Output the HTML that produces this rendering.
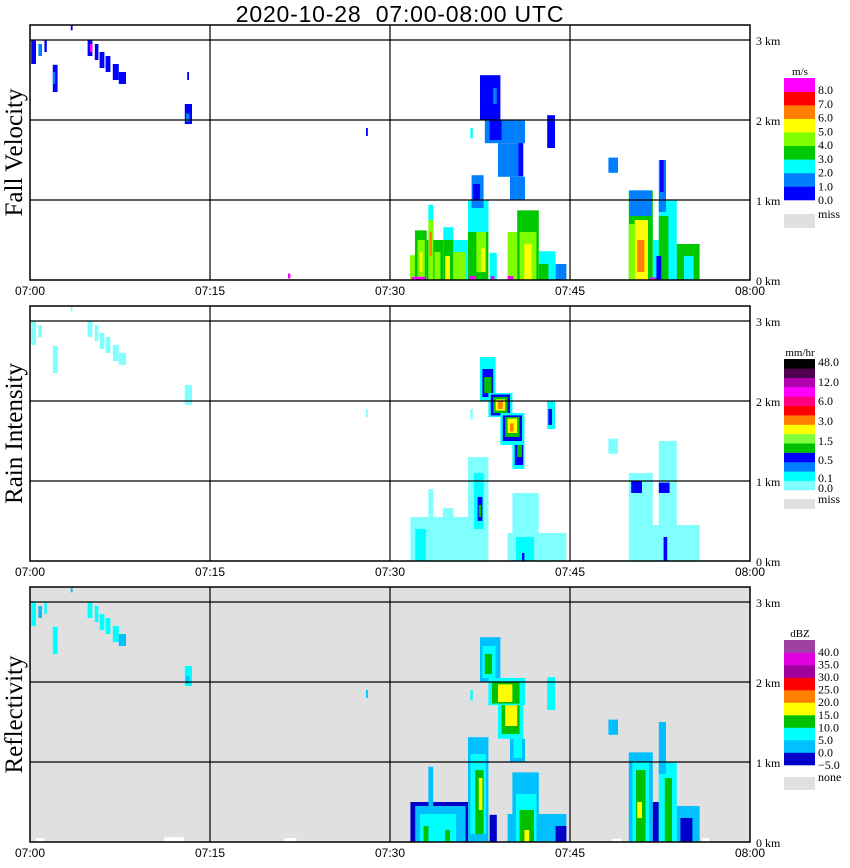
<!DOCTYPE html>
<html><head><meta charset="utf-8"><style>
html,body{margin:0;padding:0;background:#fff;width:850px;height:868px;overflow:hidden}
svg{display:block}
.ser{font-family:"Liberation Serif",serif}
.san{font-family:"Liberation Sans",sans-serif}
</style></head><body>
<svg id="chart" width="850" height="868" viewBox="0 0 850 868" xmlns="http://www.w3.org/2000/svg">
<text class="san" x="400" y="22" font-size="23" letter-spacing="0.8" text-anchor="middle" xml:space="preserve">2020-10-28  07:00-08:00 UTC</text>
</svg>
<script>
// ---- data ----
const timeTickLabels = ["07:00","07:15","07:30","07:45","08:00"];
const timeTickMinutes = [0,15,30,45,60];
const heightTickLabels = ["0 km","1 km","2 km","3 km"];
const heightTickKm = [0,1,2,3];
const panelTitles = ["Fall Velocity","Rain Intensity","Reflectivity"];

const velocityBounds = [0,1,2,3,4,5,6,7,8];
const velocityLabels = ["8.0","7.0","6.0","5.0","4.0","3.0","2.0","1.0","0.0"];
const rainBounds = [0,0.1,0.25,0.5,1,1.5,2.2,3,4.5,6,9,12,24,48];
const rainLabels = ["48.0","12.0","6.0","3.0","1.5","0.5","0.1","0.0"];
const dbzBounds = [-5,0,5,10,15,20,25,30,35,40];
const dbzLabels = ["40.0","35.0","30.0","25.0","20.0","15.0","10.0","5.0","0.0","\u22125.0"];

// cells: [startMinute, endMinute, bottomKm, topKm, value]
const velocityCells = [
[0.1,0.5,2.7,3.0,0.5],[0.7,1.0,2.8,2.95,1.5],[1.2,1.4,2.85,3.0,0.5],[1.9,2.3,2.35,2.69,0.5],[1.9,2.1,2.45,2.6,1.5],
[3.4,3.55,3.12,3.18,0.5],[4.8,5.2,2.8,3.0,0.5],[5.4,5.7,2.75,2.95,0.5],[5.8,6.2,2.65,2.85,0.5],[6.3,6.7,2.6,2.8,0.5],
[6.9,7.4,2.5,2.7,0.5],[7.4,8.0,2.45,2.6,0.5],
[5.0,5.2,2.85,2.95,8.5],[12.9,13.5,1.95,2.2,0.5],[13.0,13.3,1.98,2.08,1.5],[13.1,13.25,2.5,2.6,0.5],
[28.0,28.15,1.8,1.9,0.5],[21.5,21.7,0.02,0.08,8.5],
[37.5,39.2,2.0,2.56,0.5],[37.9,41.25,1.71,2.0,1.5],[38.3,39.3,1.75,2.0,0.5],[39.0,41.1,1.29,1.71,1.5],
[40.7,41.1,1.3,1.71,0.5],[40.0,41.25,1.0,1.29,1.5],[38.6,38.9,2.2,2.4,1.5],
[43.1,43.75,1.65,2.06,0.5],[48.2,49.0,1.34,1.53,1.5],[36.7,36.9,1.77,1.9,2.5],
[31.67,32.08,0,0.31,4.5],[32.08,33.06,0,0.62,3.5],[32.3,32.9,0,0.5,4.5],[32.5,32.7,0.1,0.35,5.5],
[33.2,33.6,0,0.94,2.5],[33.2,33.6,0,0.75,4.5],[33.3,33.5,0.3,0.6,6.5],[33.06,33.2,0,0.5,3.5],
[33.6,34.44,0,0.5,3.5],[33.7,34.2,0,0.35,4.5],[34.44,35.28,0,0.66,2.5],[34.44,35.28,0,0.5,3.5],
[34.6,35.0,0,0.3,5.5],[35.28,36.5,0,0.5,2.5],[35.28,36.3,0,0.35,4.5],[31.8,33.0,0,0.04,8.5],
[36.5,38.2,0,1.0,3.5],[36.5,38.2,0.6,1.0,2.5],[36.8,37.8,0.9,1.31,1.5],[36.9,37.5,1.0,1.2,0.5],
[37.2,38.0,0.1,0.6,4.5],[37.6,37.9,0.1,0.4,5.5],[36.6,37.1,0,0.05,8.5],[38.3,38.9,0,0.34,2.5],[38.4,38.7,0,0.05,8.5],
[39.8,40.6,0,0.6,4.5],[40.6,42.4,0,0.87,3.5],[40.8,42.2,0,0.6,4.5],[41.2,41.8,0,0.45,5.5],
[42.4,43.8,0,0.36,2.5],[42.4,43.2,0,0.2,3.5],[43.8,44.7,0,0.2,1.5],[39.8,40.3,0,0.05,8.5],
[49.9,51.9,0,1.12,3.5],[50.0,51.8,0.8,1.12,1.5],[49.9,50.4,0,0.7,4.5],[50.4,51.5,0,0.75,5.5],
[50.6,51.2,0.1,0.5,6.5],[51.9,52.4,0,0.5,2.5],[52.4,53.9,0,1.0,2.5],[52.4,53.2,0,0.8,3.5],
[52.4,53.0,0.85,1.5,1.5],[52.5,52.8,1.1,1.5,0.5],[53.9,55.8,0,0.45,3.5],[54.5,55.3,0,0.3,2.5],
[52.2,52.6,0,0.3,0.5],[51.6,52.2,0,0.03,8.5]
];
const rainCells = [
[0.1,0.5,2.7,3.0,0.05],[0.7,1.0,2.8,2.95,0.05],[1.9,2.3,2.35,2.69,0.05],[3.4,3.55,3.12,3.18,0.05],
[4.8,5.2,2.8,3.0,0.05],[5.4,5.7,2.75,2.95,0.05],[5.8,6.2,2.65,2.85,0.05],[6.3,6.7,2.6,2.8,0.05],
[6.9,7.4,2.5,2.7,0.05],[7.4,8.0,2.45,2.6,0.05],[12.9,13.5,1.95,2.2,0.05],[28.0,28.15,1.8,1.9,0.05],
[37.5,38.8,2.0,2.55,0.2],[37.7,38.6,2.05,2.4,0.6],[37.85,38.45,2.1,2.3,1.2],
[38.2,40.2,1.8,2.1,0.2],[38.4,40.0,1.82,2.08,0.6],[38.6,39.8,1.85,2.05,1.2],[38.8,39.6,1.88,2.02,2.5],[39.0,39.4,1.9,2.0,3.5],
[39.2,41.2,1.45,1.85,0.2],[39.4,41.0,1.5,1.82,0.6],[39.6,40.8,1.55,1.8,1.2],[39.8,40.6,1.6,1.78,2.5],[40.0,40.3,1.62,1.72,3.5],
[40.2,41.2,1.15,1.5,0.2],[40.4,41.1,1.2,1.45,0.6],[40.6,41.0,1.3,1.45,1.2],
[43.1,43.75,1.65,2.0,0.2],[43.2,43.5,1.7,1.9,0.6],[36.7,36.9,1.77,1.9,0.05],
[31.7,36.5,0,0.55,0.05],[33.2,33.6,0,0.9,0.05],[34.4,35.3,0,0.66,0.05],[32.1,33.0,0,0.4,0.2],
[36.5,38.2,0,1.3,0.05],[37.0,37.8,0.4,1.1,0.2],[37.3,37.7,0.5,0.8,0.6],[37.4,37.6,0.55,0.7,1.2],
[39.8,44.7,0,0.35,0.05],[40.2,42.4,0,0.85,0.05],[40.5,42.0,0,0.3,0.2],[41.0,41.2,0,0.1,0.6],
[49.9,55.8,0,0.45,0.05],[49.9,51.9,0,1.1,0.05],[52.4,53.9,0,1.5,0.05],[50.1,51.0,0.85,1.0,0.6],
[52.4,53.3,0.85,0.98,0.6],[52.8,53.1,0,0.3,0.6],[48.2,49.0,1.34,1.53,0.05]
];
const dbzCells = [
[0.1,0.5,2.7,3.0,7],[0.7,1.0,2.8,2.95,2],[1.2,1.4,2.85,3.0,7],[1.9,2.3,2.35,2.69,7],[3.4,3.55,3.12,3.18,2],
[4.8,5.2,2.8,3.0,7],[5.4,5.7,2.75,2.95,7],[5.8,6.2,2.65,2.85,7],[6.3,6.7,2.6,2.8,7],[6.9,7.4,2.5,2.7,7],[7.4,8.0,2.45,2.6,2],
[12.9,13.5,1.95,2.2,7],[13.0,13.3,1.98,2.08,2],[28.0,28.15,1.8,1.9,2],
[37.5,39.2,2.0,2.56,2],[37.7,38.8,2.05,2.45,7],[37.9,38.5,2.1,2.35,12],[38.2,41.25,1.71,2.05,7],[38.5,40.8,1.73,2.0,12],
[39.0,40.2,1.75,1.97,17],[39.0,41.1,1.29,1.71,7],[39.3,40.8,1.35,1.71,12],[39.6,40.6,1.45,1.71,17],
[40.0,41.25,1.0,1.29,2],[40.3,41.0,1.05,1.29,7],[36.7,36.9,1.77,1.9,7],
[43.1,43.75,1.65,2.06,7],[48.2,49.0,1.34,1.53,2],
[31.7,36.5,0,0.5,-2],[32.1,36.3,0,0.45,2],[33.2,33.6,0,0.94,2],[32.5,35.5,0,0.35,7],[32.8,33.2,0,0.2,12],[34.6,35.0,0,0.15,12],
[36.5,38.2,0,1.31,2],[36.7,38.0,0.1,1.1,7],[37.1,37.8,0.1,0.9,12],[37.4,37.7,0.4,0.8,17],[38.3,38.9,0,0.34,-2],
[39.8,44.7,0,0.35,2],[40.2,42.4,0,0.87,2],[40.5,42.2,0,0.6,7],[40.8,42.0,0,0.4,12],[41.2,41.6,0,0.15,17],[43.8,44.7,0,0.2,-2],
[49.9,51.9,0,1.12,2],[50.2,51.6,0,1.0,7],[50.5,51.3,0,0.9,12],[50.6,51.0,0.3,0.5,17],[51.9,52.4,0,0.5,-2],
[52.4,53.9,0,1.0,7],[52.4,53.0,0.85,1.5,2],[52.9,53.5,0,0.8,12],[53.9,55.8,0,0.45,2],[54.2,55.2,0,0.3,-2]
];
// [startMinute, endMinute, bottomKm, topKm] of no-data gaps on reflectivity background
const dbzGapCells = [[0.5,1.2,0,0.05],[11.2,12.8,0,0.06],[21.2,22.2,0,0.05],[48.5,49.3,0,0.04],[56.0,56.6,0,0.05]];

// ---- rendering ----
const NS="http://www.w3.org/2000/svg";
const svg=document.getElementById('chart');
const X0=30,X1=750,PXMIN=12,PXKM=80;
const panels=[
 {base:280,top:25,bg:"#ffffff",cells:velocityCells,bounds:velocityBounds,
  colors:["#0000ff","#0080ff","#00ffff","#00c800","#80ff00","#ffff00","#ff8000","#ff0000","#ff00ff"],
  unit:"m/s",labels:velocityLabels,legTop:78,legBot:200,miss:"miss",missY:214,missH:14,labStart:90,labEnd:200},
 {base:561,top:306,bg:"#ffffff",cells:rainCells,bounds:rainBounds,
  colors:["#80ffff","#00ffff","#0080ff","#0000ff","#00c000","#80ff40","#ffff00","#ff8000","#ff0000","#ff0080","#ff00ff","#b000b0","#500050","#000000"],
  unit:"mm/hr",labels:rainLabels,legTop:359,legBot:490,miss:"miss",missY:499,missH:10,
  labYs:[366,386,405,425,445,464,482,492]},
 {base:842,top:587,bg:"#e0e0e0",cells:dbzCells,bounds:dbzBounds,
  colors:["#0000c8","#00c0ff","#00ffff","#00c000","#ffff00","#ff8000","#ff0000","#a000a0","#e000e0","#a040a0"],
  unit:"dBZ",labels:dbzLabels,legTop:640,legBot:765,miss:"none",missY:777,missH:13,labStart:652,labEnd:765}
];
function xScale(t){return X0+t*PXMIN;}
function yScale(p,h){return p.base-h*PXKM;}
function colorFor(p,v){let i=0;for(let k=0;k<p.bounds.length;k++){if(v>=p.bounds[k])i=k;}return p.colors[Math.min(i,p.colors.length-1)];}
function mk(tag,attrs,parent){const e=document.createElementNS(NS,tag);for(const k in attrs)e.setAttribute(k,attrs[k]);(parent||svg).appendChild(e);return e;}

panels.forEach((p,pi)=>{
  const g=mk('g',{});
  
  
  const bg=mk('rect',{x:X0,y:p.top,width:X1-X0,height:p.base-p.top,fill:p.bg},g);
  
  
  if(pi===2){dbzGapCells.forEach(c=>{
    const r=mk('rect',{x:xScale(c[0]),y:yScale(p,c[3]),width:xScale(c[1])-xScale(c[0]),height:yScale(p,c[2])-yScale(p,c[3]),fill:"#ffffff"},g);
    
    
  });}
  p.cells.forEach(c=>{
    const r=mk('rect',{x:xScale(c[0]),y:yScale(p,c[3]),width:xScale(c[1])-xScale(c[0]),height:yScale(p,c[2])-yScale(p,c[3]),fill:colorFor(p,c[4])},g);
    
    
  });
  heightTickKm.forEach((h,i)=>{
    const y=yScale(p,h);
    if(h>0){const l=mk('line',{x1:X0,x2:X1,y1:y,y2:y,stroke:"#000","stroke-width":1.2},g);
      
      }
    const t=mk('text',{x:756,y:y+5,"font-size":12,class:"ser"},g);
    
    
    t.textContent=heightTickLabels[i];
  });
  timeTickMinutes.forEach((m,i)=>{
    const x=xScale(m);
    if(m>0&&m<60){const l=mk('line',{x1:x,x2:x,y1:p.top,y2:p.base,stroke:"#000","stroke-width":1.2},g);
      
      }
    const t=mk('text',{x:x,y:p.base+15,"font-size":12,class:"san","text-anchor":"middle"},g);
    
    
    t.textContent=timeTickLabels[i];
  });
  const fr=mk('rect',{x:X0,y:p.top,width:X1-X0,height:p.base-p.top,fill:"none",stroke:"#000","stroke-width":1.5},g);
  
  
  const yc=(p.top+p.base)/2;
  const tt=mk('text',{x:22,y:yc,"font-size":25,class:"ser","text-anchor":"middle",transform:`rotate(-90 22 ${yc})`},g);
  
  
  tt.textContent=panelTitles[pi];
  const lg=mk('g',{},g);
  
  
  const n=p.colors.length,hgt=(p.legBot-p.legTop)/n;
  for(let k=0;k<n;k++){
    const r=mk('rect',{x:784,y:p.legTop+(n-1-k)*hgt,width:31,height:hgt+0.3,fill:p.colors[k]},lg);
    
    
  }
  const u=mk('text',{x:800,y:p.legTop-3,"font-size":11,class:"ser","text-anchor":"middle"},lg);
  
  
  u.textContent=p.unit;
  p.labels.forEach((lab,k)=>{
    let y;
    if(p.labYs)y=p.labYs[k];else y=p.labStart+k*(p.labEnd-p.labStart)/(p.labels.length-1)+4;
    const t=mk('text',{x:818,y:y,"font-size":12,class:"ser"},lg);
    
    
    t.textContent=lab;
  });
  const mr=mk('rect',{x:784,y:p.missY,width:31,height:p.missH,fill:"#e0e0e0"},lg);
  
  
  const mt=mk('text',{x:818,y:p.missY+4,"font-size":12,class:"ser"},lg);
  
  
  mt.textContent=p.miss;
});
</script>
</body></html>
